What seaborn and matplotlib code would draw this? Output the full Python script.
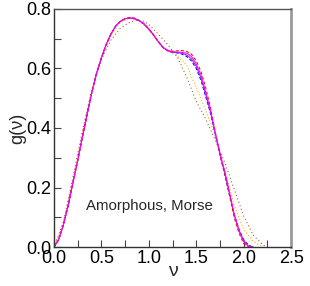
import matplotlib
matplotlib.use("Agg")
import matplotlib.pyplot as plt
import seaborn as sns
import pandas as pd
from matplotlib.ticker import MultipleLocator

sns.set_theme(style="white")
plt.rcParams['font.family'] = ['Liberation Sans', 'DejaVu Sans']

# ---- data ----
nu_main = [0.0, 0.05, 0.1, 0.15, 0.2, 0.25, 0.3, 0.35, 0.4, 0.45, 0.5, 0.55, 0.6, 0.65, 0.7,
           0.75, 0.8, 0.85, 0.9, 0.95, 1.0, 1.05, 1.1, 1.15, 1.2, 1.25, 1.3, 1.35, 1.4, 1.45,
           1.5, 1.55, 1.6, 1.65, 1.7, 1.75, 1.8, 1.85, 1.9, 1.95, 2.0, 2.05, 2.1]
g_magenta = [0.0, 0.025, 0.075, 0.14, 0.215, 0.29, 0.37, 0.445, 0.52, 0.585, 0.635, 0.68, 0.715,
             0.742, 0.758, 0.767, 0.770, 0.768, 0.760, 0.750, 0.733, 0.713, 0.690, 0.670, 0.660,
             0.656, 0.655, 0.654, 0.651, 0.640, 0.615, 0.578, 0.520, 0.460, 0.385, 0.315, 0.255,
             0.185, 0.110, 0.055, 0.018, 0.002, 0.0]
g_red = [0.0, 0.025, 0.075, 0.14, 0.215, 0.29, 0.37, 0.445, 0.52, 0.585, 0.635, 0.68, 0.715,
         0.742, 0.758, 0.767, 0.771, 0.769, 0.761, 0.750, 0.733, 0.712, 0.690, 0.671, 0.661,
         0.658, 0.659, 0.660, 0.657, 0.648, 0.625, 0.590, 0.535, 0.468, 0.388, 0.312, 0.248,
         0.175, 0.100, 0.048, 0.012, 0.0, 0.0]
g_blue = [0.0, 0.025, 0.075, 0.14, 0.215, 0.29, 0.37, 0.445, 0.52, 0.585, 0.635, 0.68, 0.715,
          0.742, 0.758, 0.767, 0.769, 0.767, 0.760, 0.749, 0.732, 0.712, 0.690, 0.670, 0.659,
          0.654, 0.652, 0.648, 0.640, 0.625, 0.600, 0.560, 0.505, 0.450, 0.380, 0.310, 0.245,
          0.175, 0.110, 0.060, 0.025, 0.007, 0.0]
g_violet = [0.0, 0.025, 0.075, 0.14, 0.215, 0.29, 0.37, 0.445, 0.52, 0.585, 0.635, 0.68, 0.715,
            0.742, 0.758, 0.767, 0.769, 0.767, 0.760, 0.749, 0.732, 0.712, 0.690, 0.670, 0.659,
            0.655, 0.653, 0.651, 0.645, 0.632, 0.607, 0.568, 0.512, 0.455, 0.382, 0.312, 0.250,
            0.180, 0.110, 0.058, 0.022, 0.004, 0.0]

nu_orange = [0.0, 0.1, 0.2, 0.3, 0.4, 0.5, 0.6, 0.7, 0.8, 0.9, 1.0, 1.1, 1.2, 1.3, 1.35, 1.4,
             1.5, 1.6, 1.7, 1.8, 1.9, 2.0, 2.1, 2.2]
g_orange = [0.0, 0.08, 0.225, 0.38, 0.525, 0.635, 0.712, 0.756, 0.768, 0.760, 0.730, 0.688,
            0.660, 0.640, 0.628, 0.610, 0.535, 0.460, 0.375, 0.260, 0.140, 0.060, 0.020, 0.0]

nu_brown = [0.0, 0.1, 0.2, 0.3, 0.4, 0.5, 0.6, 0.7, 0.8, 0.85, 0.9, 0.95, 1.0, 1.1, 1.2, 1.3,
            1.4, 1.5, 1.6, 1.7, 1.8, 1.9, 2.0, 2.1, 2.2, 2.25]
g_brown = [0.0, 0.085, 0.235, 0.39, 0.53, 0.63, 0.695, 0.735, 0.755, 0.760, 0.762, 0.758, 0.748,
           0.715, 0.680, 0.640, 0.570, 0.490, 0.430, 0.360, 0.285, 0.195, 0.105, 0.040, 0.008, 0.0]

x_ticks = [0.0, 0.5, 1.0, 1.5, 2.0, 2.5]
y_ticks = [0.0, 0.2, 0.4, 0.6, 0.8]
annotation = "Amorphous, Morse"

series = [
    (nu_orange, g_orange, "#ffa500", (0, (1, 2))),
    (nu_brown, g_brown, "#a0522d", (0, (1, 2.5))),
    (nu_main, g_blue, "#0000ff", (0, (3, 2))),
    (nu_main, g_violet, "#8a2be2", "-"),
    (nu_main, g_red, "#ff0000", (0, (3, 2))),
    (nu_main, g_magenta, "#ff00ff", "-"),
]

fig = plt.figure(figsize=(3.10, 2.86), dpi=100)
ax = fig.add_axes([0.174, 0.136, 0.765, 0.833])

for x, y, c, ls in series:
    df = pd.DataFrame({"nu": x, "g": y})
    sns.lineplot(data=df, x="nu", y="g", ax=ax, color=c, linestyle=ls, linewidth=0.75,
                 estimator=None, sort=False)

ax.set_xlim(0, 2.5)
ax.set_ylim(0, 0.8)
ax.set_xticks(x_ticks)
ax.set_yticks(y_ticks)
ax.set_xticklabels([f"{t:.1f}" for t in x_ticks])
ax.set_yticklabels([f"{t:.1f}" for t in y_ticks])
ax.xaxis.set_minor_locator(MultipleLocator(0.25))
ax.yaxis.set_minor_locator(MultipleLocator(0.1))
ax.tick_params(which="both", direction="in", length=5, width=0.8, color="#444444",
               labelsize=13, pad=2, bottom=True, left=True, top=False, right=False,
               labelcolor="black")
ax.set_xlabel("ν", fontsize=14, labelpad=-3)
ax.set_ylabel("g(ν)", fontsize=13, labelpad=0)

for s in ["left", "bottom"]:
    ax.spines[s].set_color("#333333")
    ax.spines[s].set_linewidth(1.0)
ax.spines["top"].set_color("#555555")
ax.spines["top"].set_linewidth(1.0)
ax.spines["right"].set_color("#9a9a9a")
ax.spines["right"].set_linewidth(2.0)

ax.text(0.135, 0.172, annotation, fontsize=10.8, ha="left", va="center",
        transform=ax.transAxes)
ax.grid(False)

fig.savefig("out.png", dpi=100)
